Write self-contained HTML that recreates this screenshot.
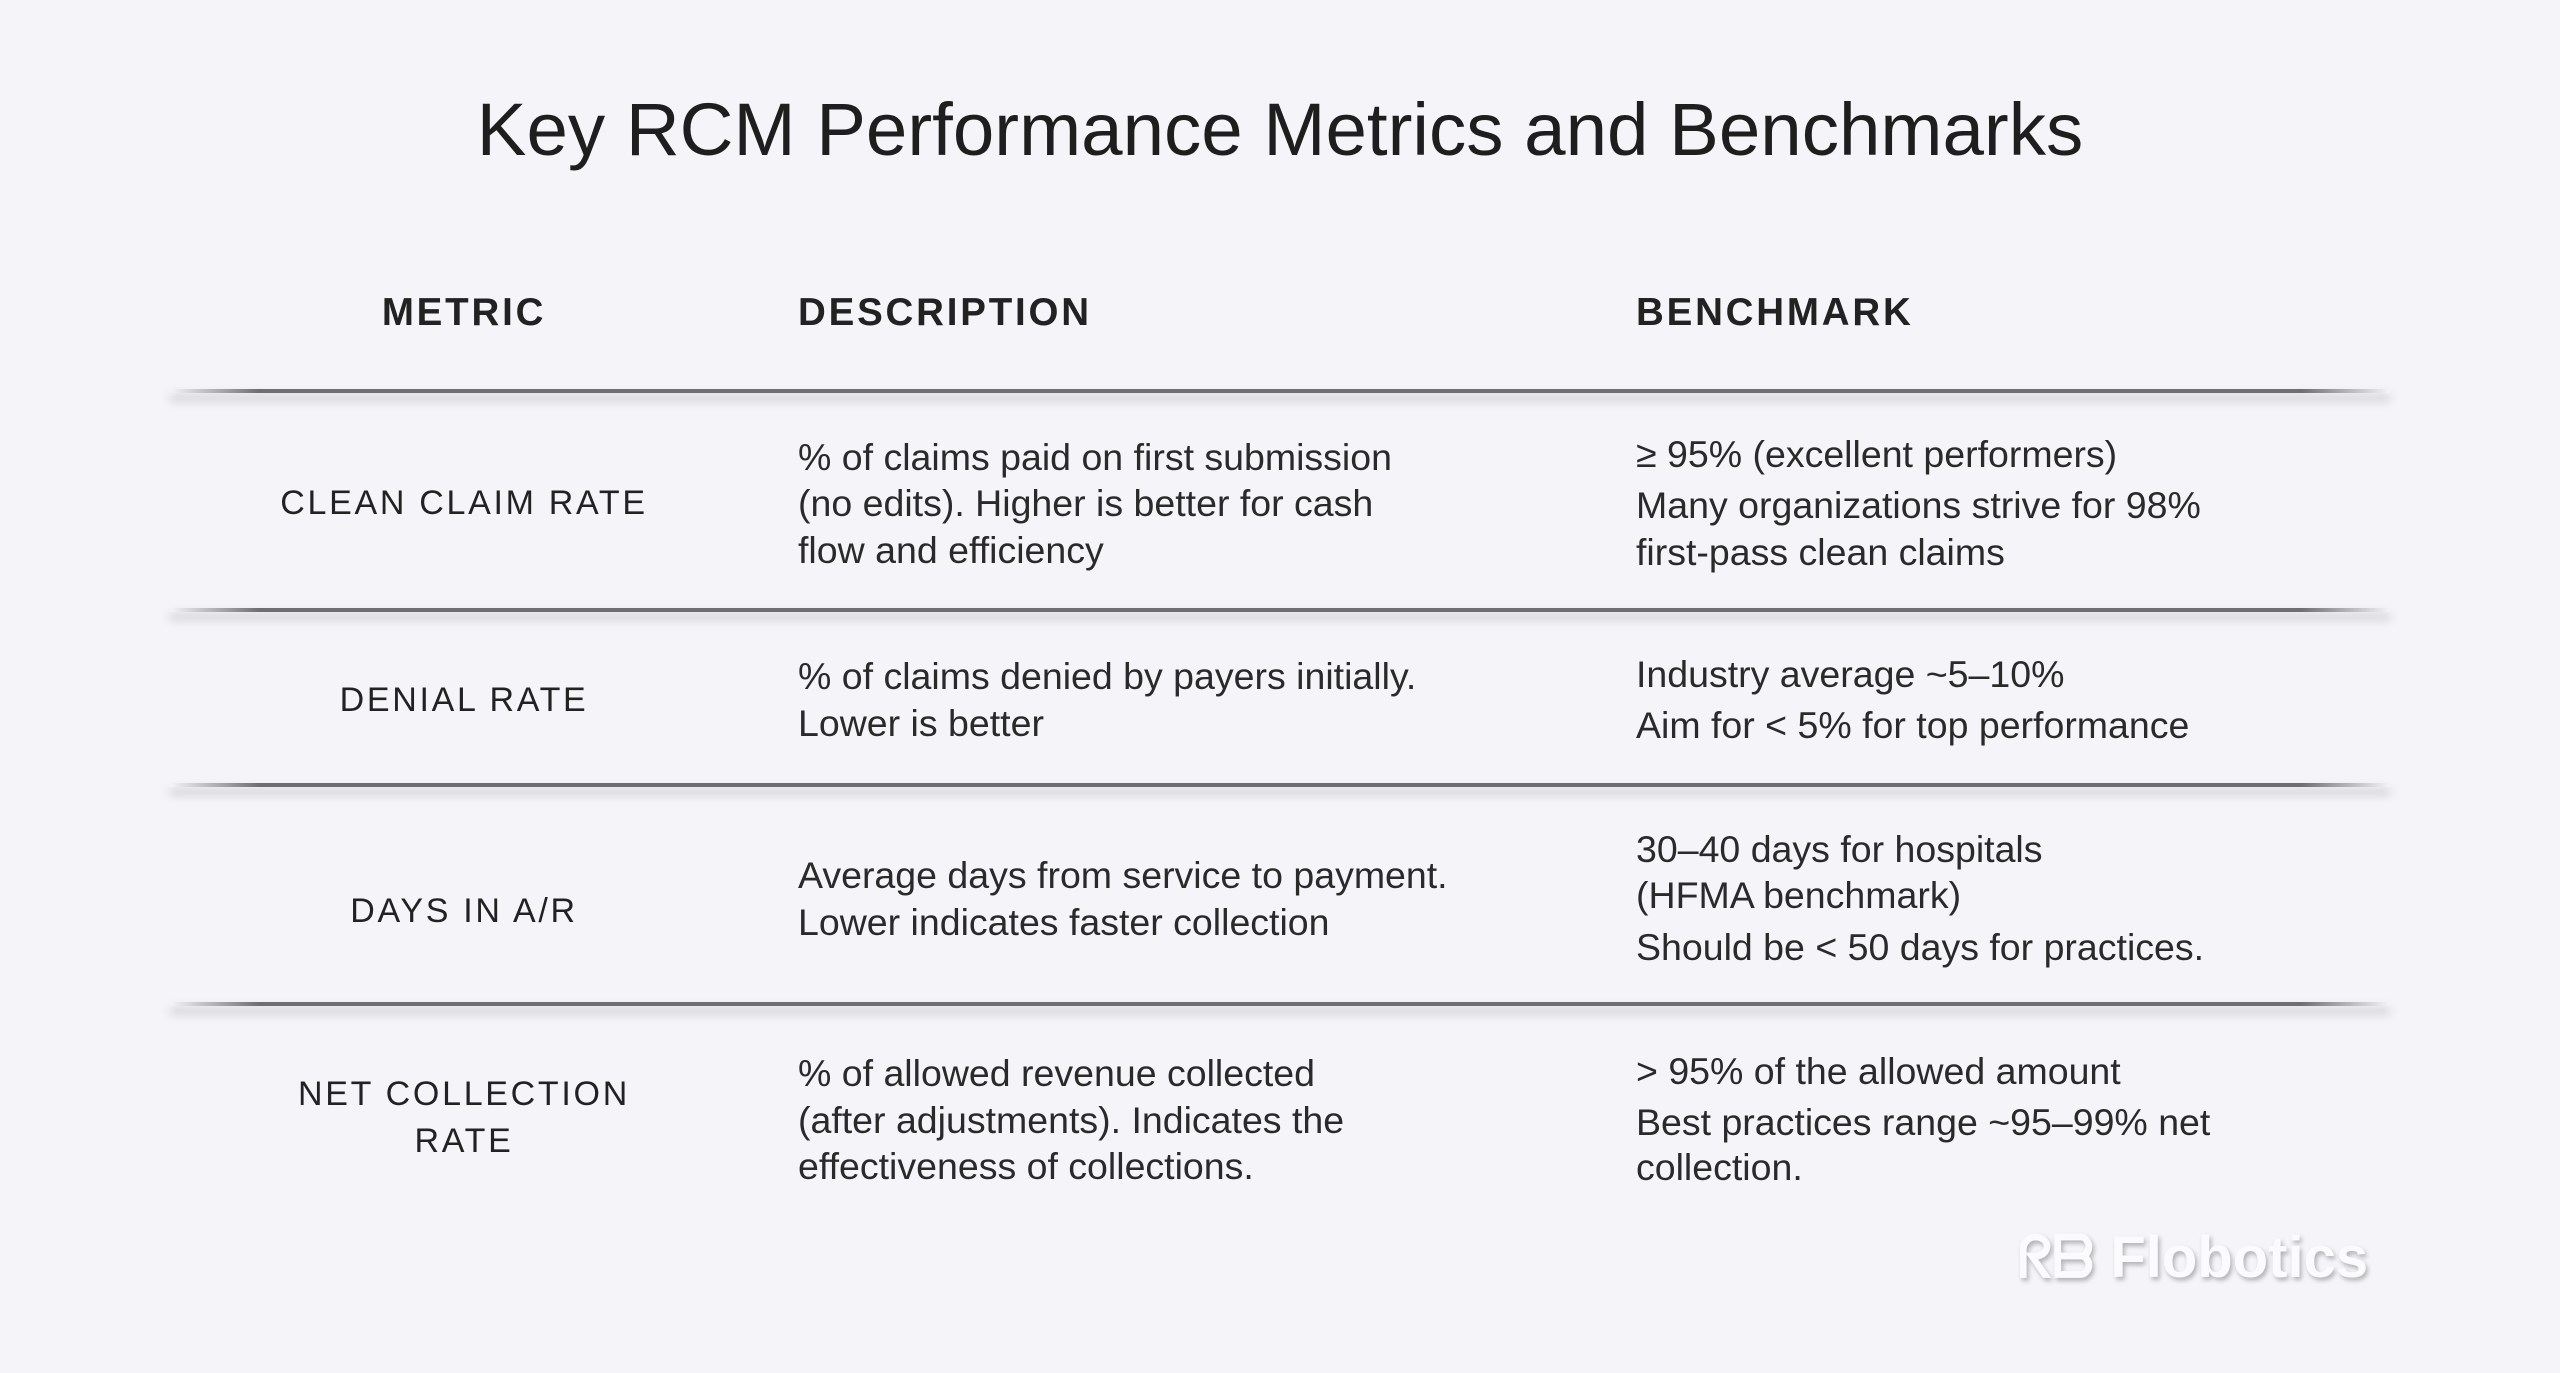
<!DOCTYPE html>
<html><head><meta charset="utf-8"><style>
body{margin:0;width:2560px;height:1373px;background:#f5f5f9;font-family:"Liberation Sans",sans-serif;color:#222;position:relative;overflow:hidden}
.t{position:absolute;white-space:nowrap;line-height:46px;height:46px}
.d{font-size:37.5px;color:#2a2a2a}
.m{font-size:34px;letter-spacing:2.7px;text-align:center;width:560px;left:184px;color:#222}
.h{font-size:38.5px;font-weight:bold;letter-spacing:2.8px;color:#222}
.rule{position:absolute;left:170px;width:2220px;height:4px;background:linear-gradient(90deg,rgba(110,110,115,0),#6e6e73 4%,#6e6e73 96%,rgba(110,110,115,0));box-shadow:0 7px 10px rgba(0,0,0,0.25)}
</style></head><body>
<div class="t" style="left:0;width:2560px;text-align:center;top:90px;height:80px;line-height:80px;font-size:74.5px;color:#1e1e1e">Key RCM Performance Metrics and Benchmarks</div>
<div class="t h" style="left:184px;width:560px;text-align:center;top:290px">METRIC</div>
<div class="t h" style="left:798px;top:290px">DESCRIPTION</div>
<div class="t h" style="left:1636px;top:290px">BENCHMARK</div>
<div class="rule" style="top:389px"></div>
<div class="rule" style="top:608px"></div>
<div class="rule" style="top:783px"></div>
<div class="rule" style="top:1002px"></div>

<div class="t m" style="top:480px">CLEAN CLAIM RATE</div>
<div class="t d" style="left:798px;top:434px">% of claims paid on first submission</div>
<div class="t d" style="left:798px;top:480px">(no edits). Higher is better for cash</div>
<div class="t d" style="left:798px;top:527px">flow and efficiency</div>
<div class="t d" style="left:1636px;top:431px">≥ 95% (excellent performers)</div>
<div class="t d" style="left:1636px;top:482px">Many organizations strive for 98%</div>
<div class="t d" style="left:1636px;top:529px">first-pass clean claims</div>

<div class="t m" style="top:677px">DENIAL RATE</div>
<div class="t d" style="left:798px;top:653px">% of claims denied by payers initially.</div>
<div class="t d" style="left:798px;top:700px">Lower is better</div>
<div class="t d" style="left:1636px;top:651px">Industry average ~5–10%</div>
<div class="t d" style="left:1636px;top:702px">Aim for &lt; 5% for top performance</div>

<div class="t m" style="top:888px">DAYS IN A/R</div>
<div class="t d" style="left:798px;top:852px">Average days from service to payment.</div>
<div class="t d" style="left:798px;top:899px">Lower indicates faster collection</div>
<div class="t d" style="left:1636px;top:826px">30–40 days for hospitals</div>
<div class="t d" style="left:1636px;top:872px">(HFMA benchmark)</div>
<div class="t d" style="left:1636px;top:924px">Should be &lt; 50 days for practices.</div>

<div class="t m" style="top:1071px">NET COLLECTION</div>
<div class="t m" style="top:1118px">RATE</div>
<div class="t d" style="left:798px;top:1050px">% of allowed revenue collected</div>
<div class="t d" style="left:798px;top:1097px">(after adjustments). Indicates the</div>
<div class="t d" style="left:798px;top:1143px">effectiveness of collections.</div>
<div class="t d" style="left:1636px;top:1048px">&gt; 95% of the allowed amount</div>
<div class="t d" style="left:1636px;top:1099px">Best practices range ~95–99% net</div>
<div class="t d" style="left:1636px;top:1144px">collection.</div>

<div class="t" style="left:2018px;top:1226px;height:64px;line-height:64px;font-size:58px;font-weight:bold;color:#fbfbfd;text-shadow:2px 3px 5px rgba(0,0,0,0.28)">ᖇᗷ Flobotics</div>
</body></html>
